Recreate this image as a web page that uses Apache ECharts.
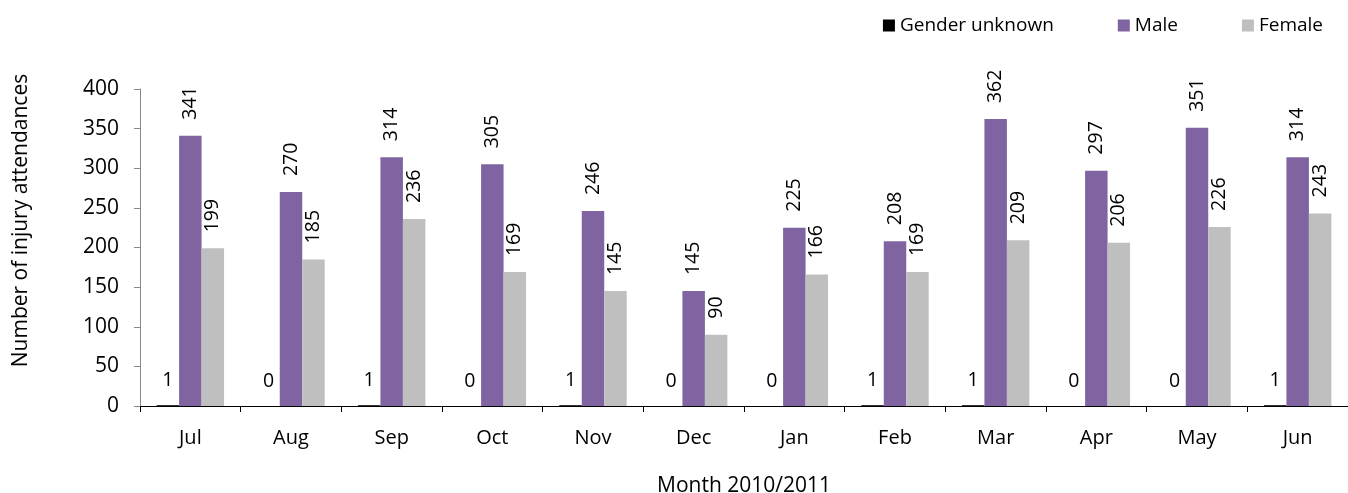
<!DOCTYPE html>
<html>
<head>
<meta charset="utf-8">
<script src="https://cdn.jsdelivr.net/npm/echarts@6/dist/echarts.min.js"></script>
<style>
    html, body { margin: 0; padding: 0; background: #fff; }
    #main { width: 1348px; height: 493px; }
</style>
</head>
<body>
<div id="main"></div>
<script>
    var months = ['Jul', 'Aug', 'Sep', 'Oct', 'Nov', 'Dec', 'Jan', 'Feb', 'Mar', 'Apr', 'May', 'Jun'];
    var unknownVals = [1, 0, 1, 0, 1, 0, 0, 1, 1, 0, 0, 1];
    var maleVals = [341, 270, 314, 305, 246, 145, 225, 208, 362, 297, 351, 314];
    var femaleVals = [199, 185, 236, 169, 145, 90, 166, 169, 209, 206, 226, 243];
    var yTicks = [0, 400, 50];

    var font = 'Open Sans';
    var chart = echarts.init(document.getElementById('main'));

    var rotLabel = {
        show: true,
        position: 'top',
        rotate: 90,
        align: 'left',
        verticalAlign: 'middle',
        distance: 16,
        fontFamily: font,
        fontSize: 19.5,
        color: '#000'
    };

    var option = {
        animation: false,
        textStyle: { fontFamily: font },
        legend: {
            top: 11,
            right: 20,
            itemWidth: 12,
            itemHeight: 12,
            itemGap: 64,
            icon: 'rect',
            textStyle: { fontFamily: font, fontSize: 19, color: '#000' },
            data: ['Gender unknown', 'Male', 'Female']
        },
        grid: { left: 140, right: 0, top: 89, bottom: 87, outerBoundsMode: 'none' },
        xAxis: {
            type: 'category',
            data: months,
            name: 'Month 2010/2011',
            nameLocation: 'middle',
            nameGap: 70,
            nameTextStyle: { fontFamily: font, fontSize: 21, color: '#000' },
            axisLine: { lineStyle: { color: '#000', width: 1 } },
            axisTick: { show: true, length: 6, lineStyle: { color: '#000' } },
            axisLabel: { fontFamily: font, fontSize: 20, color: '#000', margin: 22 }
        },
        yAxis: {
            type: 'value',
            min: yTicks[0],
            max: yTicks[1],
            interval: yTicks[2],
            name: 'Number of injury attendances',
            nameLocation: 'middle',
            nameGap: 108,
            nameTextStyle: { fontFamily: font, fontSize: 21, color: '#000', padding: [0, 0, 0, 54] },
            axisLine: { show: true, lineStyle: { color: '#888' } },
            axisTick: { show: true, length: 6, lineStyle: { color: '#888' } },
            splitLine: { show: false },
            axisLabel: { fontFamily: font, fontSize: 21, color: '#000', margin: 21 }
        },
        series: [
            {
                name: 'Gender unknown',
                type: 'bar',
                data: unknownVals,
                barGap: '0%',
                barCategoryGap: '33%',
                itemStyle: { color: '#000' },
                label: {
                    show: true,
                    position: 'top',
                    distance: 15,
                    fontFamily: font,
                    fontSize: 19.5,
                    color: '#000'
                }
            },
            {
                name: 'Male',
                type: 'bar',
                data: maleVals,
                barGap: '0%',
                barCategoryGap: '33%',
                itemStyle: { color: '#8064A2' },
                label: rotLabel
            },
            {
                name: 'Female',
                type: 'bar',
                data: femaleVals,
                barGap: '0%',
                barCategoryGap: '33%',
                itemStyle: { color: '#BFBFBF' },
                label: rotLabel
            }
        ]
    };

    chart.setOption(option);
</script>
</body>
</html>
